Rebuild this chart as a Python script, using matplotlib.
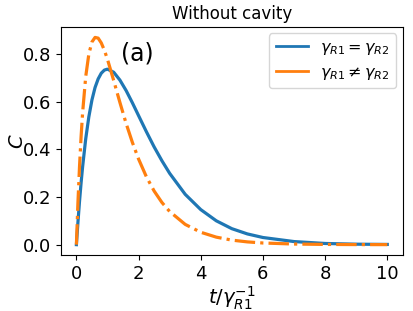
import matplotlib

matplotlib.use("Agg")
import matplotlib.pyplot as plt
from matplotlib.lines import Line2D

# time grid (units of 1/gamma_R1)
t = [0.0, 0.05, 0.1, 0.15, 0.2, 0.3, 0.4, 0.5, 0.6, 0.7, 0.8, 0.9, 1.0,
     1.2, 1.4, 1.6, 1.8, 2.0, 2.25, 2.5, 2.75, 3.0, 3.5, 4.0, 4.5, 5.0,
     5.5, 6.0, 7.0, 8.0, 9.0, 10.0]

# concurrence, equal decay rates
c_equal = [0.0, 0.095, 0.181, 0.258, 0.327, 0.444, 0.536, 0.607, 0.659,
           0.695, 0.719, 0.732, 0.736, 0.723, 0.690, 0.646, 0.595, 0.541,
           0.474, 0.410, 0.352, 0.299, 0.211, 0.147, 0.100, 0.067, 0.045,
           0.030, 0.013, 0.005, 0.002, 0.001]

# concurrence, unequal decay rates
c_unequal = [0.0, 0.178, 0.327, 0.451, 0.554, 0.705, 0.799, 0.850, 0.869,
             0.866, 0.846, 0.815, 0.777, 0.688, 0.596, 0.508, 0.429, 0.359,
             0.285, 0.225, 0.177, 0.139, 0.085, 0.052, 0.0315, 0.019, 0.0116,
             0.0070, 0.0026, 0.001, 0.0003, 0.0001]

labels = [r"$\gamma_{R1}=\gamma_{R2}$", r"$\gamma_{R1}\neq\gamma_{R2}$"]
colors = ["#1f77b4", "#ff7f0e"]

fig = plt.figure(figsize=(4.14, 3.11), dpi=100)
ax = fig.add_axes([0.147, 0.180, 0.826, 0.733])

ax.plot(t, c_equal, color=colors[0], linewidth=2.3)
ax.plot(t, c_unequal, color=colors[1], linewidth=2.3, linestyle="-.")

ax.text(1.95, 0.80, "(a)", fontsize=17, ha="center", va="center")

ax.set_title("Without cavity", fontsize=12)
ax.set_xlabel(r"$t/\gamma_{R1}^{-1}$", fontsize=14, labelpad=1)
ax.set_ylabel(r"$C$", fontsize=14)
ax.yaxis.set_label_coords(-0.1, 0.5)
ax.set_xticks([0, 2, 4, 6, 8, 10])
ax.set_yticks([0.0, 0.2, 0.4, 0.6, 0.8])
ax.tick_params(labelsize=13)

# legend handles drawn solid, as in the original
handles = [Line2D([], [], color=c, linewidth=2.0) for c in colors]
ax.legend(handles, labels, loc="upper right", fontsize=11.5, borderaxespad=0.4)

fig.savefig("out.png")
